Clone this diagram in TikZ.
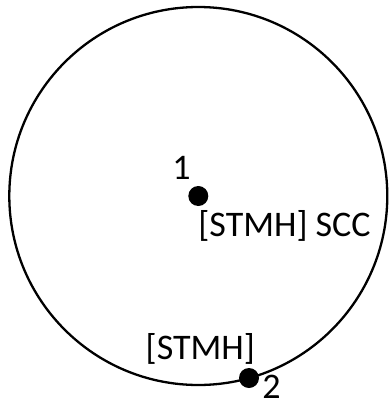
\documentclass[tikz,border=0pt]{standalone}
\usepackage{fontspec}
\setmainfont{Carlito}
\usetikzlibrary{positioning}

\begin{document}
\begin{tikzpicture}[x=1pt, y=-1pt, font=\fontsize{36}{40}\selectfont,
  site/.style={circle, fill=black, inner sep=0pt, minimum size=20pt},
  tag/.style={inner sep=0pt}]
  \useasboundingbox (0,0) rectangle (390,405);
  % boundary circle
  \coordinate (centre) at (198.3,196);
  \draw[line width=2.3pt] (centre) circle (189pt);
  % sites
  \node[site] (s1) at (centre) {};
  \node[site] (s2) at (249,378) {};
  % labels
  \node[tag] (n1) at (181.5,167.5) {1};
  \node[tag] (l1) at (284.5,226) {[STMH] SCC};
  \node[tag] (l2) at (200.3,349) {[STMH]};
  \node[tag] (n2) at (271.5,387) {2};
\end{tikzpicture}
\end{document}
